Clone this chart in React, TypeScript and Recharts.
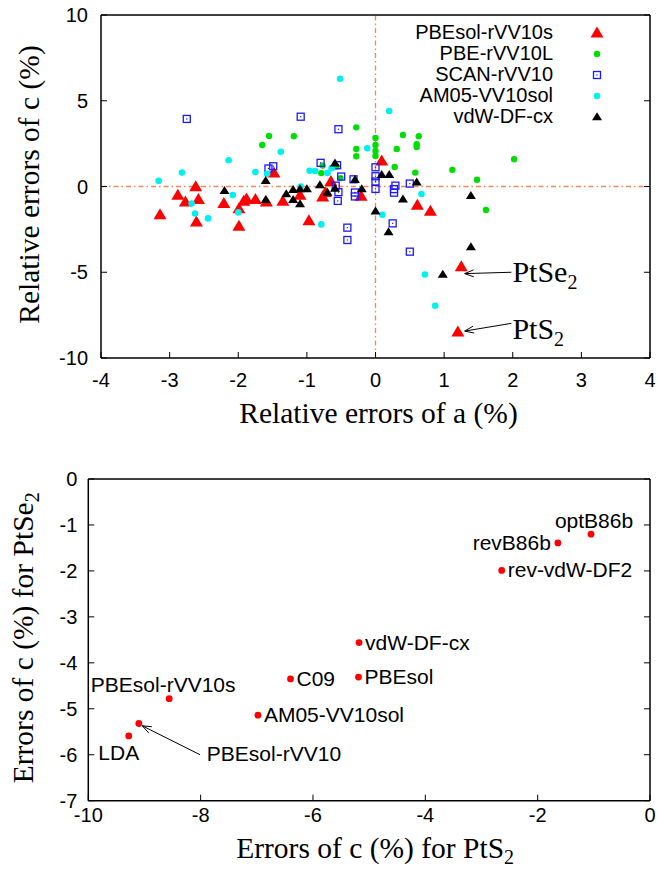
import React from 'react';
import { ScatterChart, Scatter, XAxis, YAxis, ReferenceLine, Legend } from 'recharts';

const SANS = '"Liberation Sans", Arial, Helvetica, sans-serif';
const SERIF = '"Liberation Serif", "Times New Roman", serif';

// ---- top panel: relative errors of a and c (%), [a, c] pairs ----
const pbesolRvv10s: [number, number][] = [
  [-3.14, -1.65], [-2.88, -0.52], [-2.62, -0.02], [-2.77, -0.91], [-2.58, -0.77],
  [-2.61, -2.07], [-2.21, -1.0], [-1.99, -2.32], [-1.99, -1.3], [-1.92, -0.87],
  [-1.88, -0.73], [-1.75, -0.77], [-1.59, -0.91], [-1.35, -0.87], [-1.48, 0.78],
  [-1.1, -0.52], [-0.97, -2.01], [-0.77, -0.62], [-0.73, -0.35], [-0.65, 0.29],
  [-0.21, -0.58], [0.09, 1.48], [0.61, -1.1], [0.8, -1.45], [1.25, -4.69], [1.2, -8.49],
];
const pbeRvv10L: [number, number][] = [
  [-1.55, 2.95], [-1.65, 2.42], [-1.19, 2.93], [-0.28, 3.45], [-0.28, 2.19],
  [-0.28, 1.76], [0, 2.83], [0, 2.42], [0, 2.07], [0, 1.78], [-0.79, 0.78],
  [-0.77, 1.22], [-0.57, 1.16], [-0.51, 0.49], [0.4, 3.0], [0.63, 2.93],
  [0.6, 2.46], [0.6, 2.3], [0.31, 2.19], [0.28, 1.14], [0.58, 0.81],
  [1.12, 0.97], [2.02, 1.59], [1.48, 0.39], [1.61, -1.37],
];
const scanRvv10: [number, number][] = [
  [-2.75, 3.94], [-1.09, 4.07], [-0.54, 3.34], [-1.56, 1.05], [-1.49, 1.18],
  [-0.8, 1.38], [-0.56, 1.24], [-0.5, 0.58], [-0.58, 0.05], [-0.54, -0.33],
  [-0.55, -0.84], [-0.32, 0.42], [-0.3, -0.35], [-0.3, -0.58], [-0.41, -2.4],
  [-0.41, -3.12], [0, 1.12], [0, 0.6], [0, 0.29], [0, -0.14], [0.29, 0.05],
  [0.27, -0.15], [0.27, -0.36], [0.25, -2.15], [0.5, 0.17], [0.5, -3.8],
];
const am05Vv10sol: [number, number][] = [
  [-0.515, 6.28], [-3.16, 0.33], [-2.82, 0.81], [-2.14, 1.53], [-1.38, 2.02],
  [-1.75, 0.84], [-1.58, 0.74], [-2.08, -0.5], [-2.68, -0.99], [-2.63, -1.57],
  [-2.44, -1.86], [-2.0, -1.51], [-0.96, 0.92], [-0.88, 0.9], [-0.7, 0.79],
  [-0.64, 1.07], [-1.09, 0.0], [-0.79, -2.21], [-0.12, 2.23], [0.2, 4.4],
  [0.67, -0.44], [0.1, -1.65], [0.72, -5.13], [0.87, -6.95],
];
const vdwDfCx: [number, number][] = [
  [-2.2, -0.25], [-1.6, 0.33], [-1.6, -0.77], [-1.3, -0.44], [-1.2, -0.19],
  [-1.2, -0.77], [-1.1, -0.15], [-1.1, -1.02], [-1.0, -0.15], [-0.81, 0.08],
  [-0.7, -0.35], [-0.59, -0.12], [-0.59, 1.36], [-0.3, 0.39], [-0.2, -0.15],
  [0, -1.45], [0.09, 0.68], [0.2, 0.68], [0.6, 0.25], [0.4, -0.74],
  [0.19, -2.65], [1.39, -0.54], [1.39, -3.53], [0.98, -5.13],
];

const topXTicks = [-4, -3, -2, -1, 0, 1, 2, 3, 4];
const topYTicks = [-10, -5, 0, 5, 10];

// annotation arrows: [text start, arrow tip] in data units
const ptSe2Arrow = [{ x: 1.98, y: -5.0 }, { x: 1.3, y: -5.08 }];
const ptS2Arrow = [{ x: 1.98, y: -7.98 }, { x: 1.3, y: -8.43 }];

// ---- bottom panel: errors of c (%) for PtS2 vs PtSe2 ----
const functionals = [
  'optB86b', 'revB86b', 'rev-vdW-DF2', 'vdW-DF-cx', 'PBEsol', 'C09',
  'AM05-VV10sol', 'PBEsol-rVV10s', 'PBEsol-rVV10', 'LDA',
];
const ptS2Errors = [-1.05, -1.64, -2.64, -5.18, -5.19, -6.4, -6.98, -8.56, -9.1, -9.28];
const ptSe2Errors = [-1.2, -1.39, -1.99, -3.56, -4.31, -4.35, -5.14, -4.78, -5.32, -5.59];
const bottomXTicks = [-10, -8, -6, -4, -2, 0];
const bottomYTicks = [0, -1, -2, -3, -4, -5, -6, -7];
const rvv10Arrow = [{ x: -8.01, y: -6.0 }, { x: -9.04, y: -5.37 }];

// label placement for bottom panel (style only)
const labelPlace: Record<string, { dx: number; dy: number; anchor: string }> = {
  optB86b: { dx: 3, dy: -6, anchor: 'middle' },
  revB86b: { dx: -7, dy: 7, anchor: 'end' },
  'rev-vdW-DF2': { dx: 6, dy: 7, anchor: 'start' },
  'vdW-DF-cx': { dx: 6, dy: 7, anchor: 'start' },
  PBEsol: { dx: 6, dy: 7, anchor: 'start' },
  C09: { dx: 6, dy: 7, anchor: 'start' },
  'AM05-VV10sol': { dx: 6, dy: 7, anchor: 'start' },
  'PBEsol-rVV10s': { dx: -6, dy: -7, anchor: 'middle' },
  'PBEsol-rVV10': { dx: 68, dy: 38, anchor: 'start' },
  LDA: { dx: -10, dy: 24, anchor: 'middle' },
};

const toXY = (pts: [number, number][]) => pts.map(([x, y]) => ({ x, y }));
const bottomData = functionals.map((name, i) => ({ name, x: ptS2Errors[i], y: ptSe2Errors[i] }));

const TICK = 6;
const tickFont = { fontFamily: SANS, fontSize: 20, fill: '#000' };

const triangle = (cx: number, cy: number, w: number, h: number, fill: string) => (
  <polygon
    points={`${cx},${cy - h * 0.6} ${cx - w / 2},${cy + h * 0.4} ${cx + w / 2},${cy + h * 0.4}`}
    fill={fill}
  />
);

const markers: Record<string, (cx: number, cy: number) => React.ReactElement> = {
  'PBEsol-rVV10s': (cx, cy) => triangle(cx, cy, 13, 11, '#ff0000'),
  'PBE-rVV10L': (cx, cy) => <circle cx={cx} cy={cy} r={3.2} fill="#00dd00" />,
  'SCAN-rVV10': (cx, cy) => (
    <g>
      <rect x={cx - 3.5} y={cy - 3.5} width={7} height={7} fill="none" stroke="#1a1aff" strokeWidth={1.3} />
      <rect x={cx - 0.6} y={cy - 0.6} width={1.2} height={1.2} fill="#1a1aff" />
    </g>
  ),
  'AM05-VV10sol': (cx, cy) => <circle cx={cx} cy={cy} r={3.3} fill="#00f0f0" />,
  'vdW-DF-cx': (cx, cy) => triangle(cx, cy, 10, 8, '#000000'),
};

const topSeries = [
  { name: 'PBEsol-rVV10s', data: toXY(pbesolRvv10s), color: '#ff0000' },
  { name: 'PBE-rVV10L', data: toXY(pbeRvv10L), color: '#00dd00' },
  { name: 'SCAN-rVV10', data: toXY(scanRvv10), color: '#1a1aff' },
  { name: 'AM05-VV10sol', data: toXY(am05Vv10sol), color: '#00f0f0' },
  { name: 'vdW-DF-cx', data: toXY(vdwDfCx), color: '#000000' },
];

const bottomTick = (dy: number) => (p: any) => (
  <g>
    <line x1={p.x} x2={p.x} y1={p.y} y2={p.y - TICK} stroke="#000" />
    <text x={p.x} y={p.y + dy} textAnchor="middle" style={tickFont}>{p.payload.value}</text>
  </g>
);
const leftTick = (dx: number) => (p: any) => (
  <g>
    <line x1={p.x} x2={p.x + TICK} y1={p.y} y2={p.y} stroke="#000" />
    <text x={p.x - dx} y={p.y + 7} textAnchor="end" style={tickFont}>{p.payload.value}</text>
  </g>
);
const topTick = (p: any) => <line x1={p.x} x2={p.x} y1={p.y} y2={p.y + TICK} stroke="#000" />;
const rightTick = (p: any) => <line x1={p.x} x2={p.x - TICK} y1={p.y} y2={p.y} stroke="#000" />;

const frame = { stroke: '#000', strokeWidth: 1.5 };
const titleFont = { fontFamily: SERIF, fontSize: 29.5, fill: '#000' };

const xTitle = (text: string, sub: string | null, dy: number, dx = 0) => (p: any) => {
  const vb = p.viewBox;
  return (
    <text x={vb.x + vb.width / 2 + dx} y={vb.y + dy} textAnchor="middle" style={titleFont}>
      {text}
      {sub && <tspan dy={6} fontSize={20}>{sub}</tspan>}
    </text>
  );
};
const yTitle = (text: string, sub: string | null, dx: number, dy = 0) => (p: any) => {
  const vb = p.viewBox;
  const x = vb.x - dx;
  const y = vb.y + vb.height / 2 + dy;
  return (
    <text x={x} y={y} transform={`rotate(-90 ${x} ${y})`} textAnchor="middle" style={titleFont}>
      {text}
      {sub && <tspan dy={6} fontSize={20}>{sub}</tspan>}
    </text>
  );
};

const arrowShape = (label: string | null, sub: string | null, tdx: number, tdy: number, font: any) => (p: any) => {
  const { x1, y1, x2, y2 } = p;
  const len = Math.hypot(x2 - x1, y2 - y1) || 1;
  const ux = (x2 - x1) / len;
  const uy = (y2 - y1) / len;
  const bx = x2 - ux * 9;
  const by = y2 - uy * 9;
  return (
    <g>
      <line x1={x1} y1={y1} x2={x2} y2={y2} stroke="#000" strokeWidth={1} />
      <polyline
        points={`${bx - uy * 3.5},${by + ux * 3.5} ${x2},${y2} ${bx + uy * 3.5},${by - ux * 3.5}`}
        fill="none"
        stroke="#000"
        strokeWidth={1}
      />
      {label && (
        <text x={x1 + tdx} y={y1 + tdy} style={font}>
          {label}
          {sub && <tspan dy={7} fontSize={20}>{sub}</tspan>}
        </text>
      )}
    </g>
  );
};

const annotFont = { fontFamily: SERIF, fontSize: 30, fill: '#000' };

const renderLegend = (props: any) => (
  <div style={{ fontFamily: SANS, fontSize: 20, color: '#000' }}>
    {(props.payload || []).map((e: any) => (
      <div key={e.value} style={{ display: 'flex', alignItems: 'center', height: 21 }}>
        <span style={{ width: 153, textAlign: 'right', lineHeight: '21px' }}>{e.value}</span>
        <svg width={88} height={21}>{markers[e.value] && markers[e.value](44, 11)}</svg>
      </div>
    ))}
  </div>
);

const legendOrder = (item: any) => topSeries.findIndex((s) => s.name === item.value);

const labelledDot = (p: any) => {
  const place = labelPlace[p.payload.name] || { dx: 6, dy: 7, anchor: 'start' };
  return (
    <g>
      <circle cx={p.cx} cy={p.cy} r={3.4} fill="#ff0000" />
      <text x={p.cx + place.dx} y={p.cy + place.dy} textAnchor={place.anchor} style={{ fontFamily: SANS, fontSize: 21, fill: '#000' }}>
        {p.payload.name}
      </text>
    </g>
  );
};

const zeroLine = { stroke: '#f4875a', strokeWidth: 1.3, strokeDasharray: '5 3 1.5 3' };

export default function App() {
  return (
    <div style={{ position: 'absolute', left: 0, top: 0, width: 658, height: 869, background: '#fff' }}>
      <div style={{ position: 'absolute', left: 0, top: 0 }}>
        <ScatterChart width={658} height={430} margin={{ top: 14, right: 7, bottom: 71, left: 100 }}>
          <XAxis
            type="number" dataKey="x" domain={[-4, 4]} ticks={topXTicks} interval={0} allowDataOverflow
            height={1} tickSize={0} tickMargin={0} tickLine={false} axisLine={frame} tick={bottomTick(29)}
            label={{ content: xTitle('Relative errors of a (%)', null, 64.5, 3) }}
          />
          <YAxis
            type="number" dataKey="y" domain={[-10, 10]} ticks={topYTicks} interval={0} allowDataOverflow
            width={1} tickSize={0} tickMargin={0} tickLine={false} axisLine={frame} tick={leftTick(13)}
            label={{ content: yTitle('Relative errors of c (%)', null, 61.5, -2) }}
          />
          <XAxis
            xAxisId="top" orientation="top" type="number" domain={[-4, 4]} ticks={topXTicks} interval={0} allowDataOverflow
            height={1} tickSize={0} tickMargin={0} tickLine={false} axisLine={frame} tick={topTick}
          />
          <YAxis
            yAxisId="right" orientation="right" type="number" domain={[-10, 10]} ticks={topYTicks} interval={0} allowDataOverflow
            width={1} tickSize={0} tickMargin={0} tickLine={false} axisLine={frame} tick={rightTick}
          />
          <ReferenceLine x={0} {...zeroLine} />
          <ReferenceLine y={0} {...zeroLine} />
          {topSeries.map((s) => (
            <Scatter
              key={s.name}
              name={s.name}
              data={s.data}
              fill={s.color}
              isAnimationActive={false}
              shape={(p: any) => markers[s.name](p.cx, p.cy)}
            />
          ))}
          <ReferenceLine segment={ptSe2Arrow} shape={arrowShape('PtSe', '2', 1, 9.6, annotFont)} ifOverflow="visible" />
          <ReferenceLine segment={ptS2Arrow} shape={arrowShape('PtS', '2', 1, 16, annotFont)} ifOverflow="visible" />
          <Legend
            layout="horizontal"
            verticalAlign="middle"
            align="center"
            itemSorter={legendOrder}
            content={renderLegend}
            wrapperStyle={{ position: 'absolute', top: 22, left: 400, width: 241 }}
          />
        </ScatterChart>
      </div>
      <div style={{ position: 'absolute', left: 0, top: 430 }}>
        <ScatterChart width={658} height={439} margin={{ top: 48, right: 7, bottom: 67.3, left: 87.3 }}>
          <XAxis
            type="number" dataKey="x" domain={[-10, 0]} ticks={bottomXTicks} interval={0} allowDataOverflow
            height={1} tickSize={0} tickMargin={0} tickLine={false} axisLine={frame} tick={bottomTick(21)}
            label={{ content: xTitle('Errors of c (%) for PtS', '2', 57, 6) }}
          />
          <YAxis
            type="number" dataKey="y" domain={[-7, 0]} ticks={bottomYTicks} interval={0} allowDataOverflow
            width={1} tickSize={0} tickMargin={0} tickLine={false} axisLine={frame} tick={leftTick(11)}
            label={{ content: yTitle('Errors of c (%) for PtSe', '2', 53.8, -2) }}
          />
          <XAxis
            xAxisId="top" orientation="top" type="number" domain={[-10, 0]} ticks={bottomXTicks} interval={0} allowDataOverflow
            height={1} tickSize={0} tickMargin={0} tickLine={false} axisLine={frame} tick={topTick}
          />
          <YAxis
            yAxisId="right" orientation="right" type="number" domain={[-7, 0]} ticks={bottomYTicks} interval={0} allowDataOverflow
            width={1} tickSize={0} tickMargin={0} tickLine={false} axisLine={frame} tick={rightTick}
          />
          <Scatter name="functionals" data={bottomData} fill="#ff0000" isAnimationActive={false} shape={labelledDot} />
          <ReferenceLine segment={rvv10Arrow} shape={arrowShape(null, null, 0, 0, annotFont)} ifOverflow="visible" />
        </ScatterChart>
      </div>
    </div>
  );
}
